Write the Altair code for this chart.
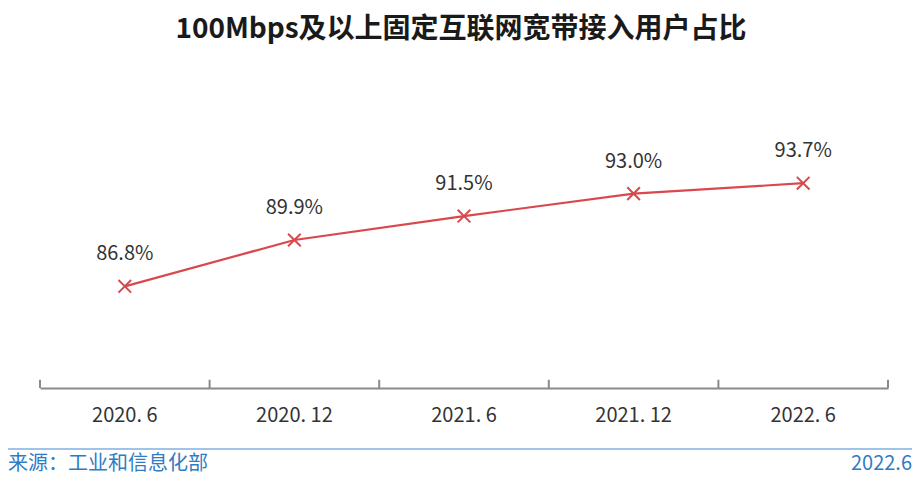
import altair as alt
import pandas as pd

categories = ["2020. 6", "2020. 12", "2021. 6", "2021. 12", "2022. 6"]
values = [86.8, 89.9, 91.5, 93.0, 93.7]
labels = ["86.8%", "89.9%", "91.5%", "93.0%", "93.7%"]
title_text = "100Mbps及以上固定互联网宽带接入用户占比"
source_text = "来源：工业和信息化部"
date_text = "2022.6"

df = pd.DataFrame({"cat": categories, "val": values, "lab": labels})

FONT = "Noto Sans CJK SC"
RED = "#d9484d"
BLUE = "#2f7cc4"

xs = alt.X("cat:N", sort=categories,
           scale=alt.Scale(paddingInner=0, paddingOuter=0),
           axis=alt.Axis(title=None, ticks=False, domainColor="#8a8a8a", domainWidth=2,
                         labelFont=FONT, labelFontSize=20, labelColor="#333333",
                         labelPadding=17, labelAngle=0))
ys = alt.Y("val:Q", scale=alt.Scale(domain=[80, 100]), axis=None)

base = alt.Chart(df)

line = base.mark_line(color=RED, strokeWidth=2.2).encode(x=xs, y=ys)
pts = base.mark_point(shape="M-1,-1L1,1M-1,1L1,-1", filled=False, color=RED,
                      strokeWidth=2, size=160, opacity=1).encode(x=xs, y=ys)
txt = base.mark_text(font=FONT, fontSize=20, color="#333333", dy=-32).encode(
    x=xs, y=ys, text="lab:N")

tick_left = base.mark_rule(color="#8a8a8a", strokeWidth=2).encode(
    x=alt.X("cat:N", sort=categories, bandPosition=0),
    y=alt.datum(80), y2=alt.datum(80.55))
tick_right = alt.Chart(df.tail(1)).mark_rule(color="#8a8a8a", strokeWidth=2).encode(
    x=alt.X("cat:N", sort=categories, bandPosition=1),
    y=alt.datum(80), y2=alt.datum(80.55))

footer_line = alt.Chart(pd.DataFrame({"a": [0]})).mark_rule(color="#7fb0e0", strokeWidth=1.5).encode(
    x=alt.value(-32), x2=alt.value(872), y=alt.value(360))
src = alt.Chart(pd.DataFrame({"t": [source_text]})).mark_text(
    font=FONT, fontSize=20, color=BLUE, align="left", baseline="middle"
).encode(x=alt.value(-32), y=alt.value(375), text="t:N")
dt = alt.Chart(pd.DataFrame({"t": [date_text]})).mark_text(
    font=FONT, fontSize=20, color=BLUE, align="right", baseline="middle"
).encode(x=alt.value(872), y=alt.value(375), text="t:N")

chart = alt.layer(line, pts, txt, tick_left, tick_right, footer_line, src, dt).properties(
    width=848, height=299,
    autosize=alt.AutoSizeParams(type="none"),
    padding={"left": 32, "top": 81, "right": 24, "bottom": 87},
    title=alt.TitleParams(text=title_text, font=FONT, fontSize=28, fontWeight="bold",
                          color="#1a1a1a", anchor="middle", frame="group",
                          baseline="middle", offset=31, dx=-3),
).configure_view(stroke=None)

chart.save("out.html", embed_options={"renderer": "svg", "actions": False})
